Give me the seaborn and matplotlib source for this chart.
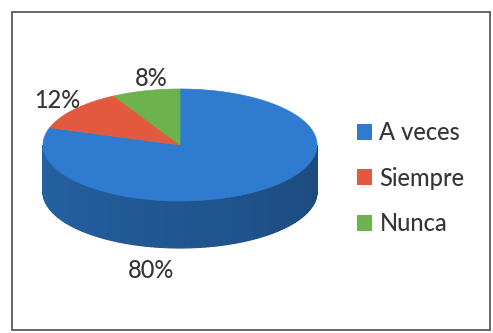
import numpy as np
import matplotlib
matplotlib.use("Agg")
import matplotlib.pyplot as plt
import matplotlib.colors as mcolors
from matplotlib.patches import Polygon, Rectangle, Patch
import seaborn as sns

# Survey answers and their shares (percent)
categories = ["A veces", "Siempre", "Nunca"]
values = [80, 12, 8]
value_labels = [f"{v}%" for v in values]
colors = ["#2e7bcf", "#e2593f", "#6db34d"]

sns.set_theme(style="white")
plt.rcParams["font.family"] = ["Lato", "DejaVu Sans"]
text_color = "#363636"

fig = plt.figure(figsize=(4.93, 3.33), dpi=100)
ax = fig.add_axes([0, 0, 1, 1])
ax.set_xlim(0, 493)
ax.set_ylim(333, 0)
ax.axis("off")

# Tilted pie geometry (pixel space)
cx, cy, rx, ry, depth = 180, 145, 137, 56, 47


def rim(t, dy=0.0):
    t = np.radians(t)
    return np.column_stack([cx + rx * np.cos(t), cy - ry * np.sin(t) + dy])


# Slice angles: start at 12 o'clock, go clockwise
total = float(sum(values))
edges = 90 - 360 * np.concatenate([[0], np.cumsum(values)]) / total
spans = [(edges[i + 1], edges[i]) for i in range(len(values))]  # (low, high) in degrees

# Side wall: only the front half (180..360 deg) is visible
for (lo, hi), col in zip(spans, colors):
    for shift in (-360, 0, 360):
        a, b = max(lo + shift, 180), min(hi + shift, 360)
        if b <= a:
            continue
        n = max(int((b - a) / 1.5), 1)
        steps = np.linspace(a, b, n + 1)
        base = np.array(mcolors.to_rgb(col))
        for s0, s1 in zip(steps[:-1], steps[1:]):
            frac = ((s0 + s1) / 2 - 180) / 180.0
            shade = base * (0.80 - 0.20 * frac)
            t = np.linspace(s0, s1, 4)
            top = rim(t)
            bot = rim(t[::-1], depth)
            ax.add_patch(Polygon(np.vstack([top, bot]), closed=True,
                                 facecolor=shade, edgecolor=shade, linewidth=0.8,
                                 zorder=1))

# Top face wedges
for (lo, hi), col in zip(spans, colors):
    t = np.linspace(lo, hi, 200)
    pts = np.vstack([[cx, cy], rim(t)])
    ax.add_patch(Polygon(pts, closed=True, facecolor=col, edgecolor=col,
                         linewidth=0.5, zorder=2))

# Percentage labels
label_pos = [(151, 271), (57, 100), (151, 79)]
for txt, (x, y) in zip(value_labels, label_pos):
    ax.text(x, y, txt, ha="center", va="center", fontsize=17, color=text_color,
            fontweight="medium", zorder=3)

# Legend
handles = [Patch(facecolor=c, edgecolor="none") for c in colors]
leg = ax.legend(handles, categories, loc="center left", bbox_to_anchor=(357, 178),
                bbox_transform=ax.transData, frameon=False,
                prop={"size": 17, "weight": "medium"},
                handlelength=0.65, handleheight=0.65, handletextpad=0.3,
                labelspacing=0.95, borderpad=0, borderaxespad=0)
for t in leg.get_texts():
    t.set_color(text_color)

# Chart frame
ax.add_patch(Rectangle((12, 12), 478, 318, facecolor="none", edgecolor="#5a5a5a",
                       linewidth=1.3, zorder=4))

fig.savefig("out.png", dpi=100)
